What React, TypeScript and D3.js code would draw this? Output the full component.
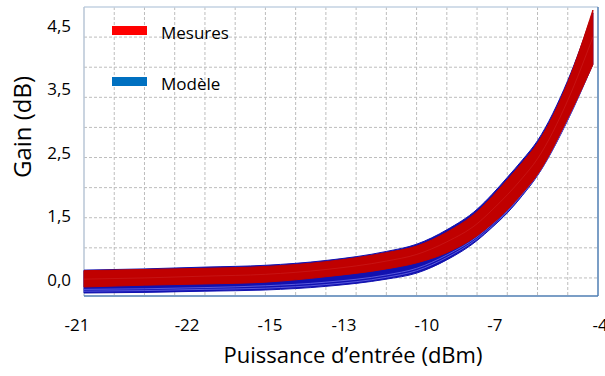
import * as d3 from "d3";

// input power (dBm) where the gain was read
const inputPower = [-21, -19, -17, -15, -13, -11, -10, -9, -8, -7.5, -7, -6.5, -6, -5, -4.17];

// envelope of the measured curves (dB)
const mesuresHaut = [0.12, 0.14, 0.16, 0.19, 0.27, 0.42, 0.53, 0.76, 1.1, 1.35, 1.63, 1.92, 2.24, 3.25, 4.45];
const mesuresBas = [-0.15, -0.12, -0.1, -0.07, 0.02, 0.15, 0.25, 0.42, 0.7, 0.9, 1.13, 1.41, 1.72, 2.65, 3.54];
const mesuresMilieu = [-0.02, 0.0, 0.03, 0.06, 0.14, 0.28, 0.39, 0.6, 0.9, 1.13, 1.38, 1.66, 1.98, 2.95, 4.0];

// envelope of the model curves (dB)
const modeleHaut = [0.13, 0.15, 0.18, 0.21, 0.29, 0.44, 0.56, 0.8, 1.14, 1.39, 1.67, 1.96, 2.28, 3.28, 4.4];
const modeleBas = [-0.25, -0.24, -0.22, -0.2, -0.14, -0.02, 0.08, 0.3, 0.62, 0.84, 1.08, 1.37, 1.7, 2.62, 3.55];
const modeleTraits1 = [-0.22, -0.21, -0.19, -0.17, -0.11, 0.01, 0.12, 0.34, 0.65, 0.86, 1.1, 1.39, 1.71, 2.63, 3.55];
const modeleTraits2 = [-0.19, -0.18, -0.16, -0.13, -0.07, 0.05, 0.16, 0.38, 0.68, 0.89, 1.12, 1.41, 1.72, 2.64, 3.56];

// tick labels as printed on the figure, and where they sit on each axis
const xTickLabels = ["-21", "-22", "-15", "-13", "-10", "-7", "-4"];
const xTickAt = [-21.23, -17.59, -14.85, -12.4, -9.66, -7.41, -3.93];
const yTickLabels = ["0,0", "1,5", "2,5", "3,5", "4,5"];

const W = 605;
const H = 376;
const m = { left: 84, right: 598, top: 7, bottom: 296 };
const font = "'Open Sans', 'Noto Sans', sans-serif";

export default function App() {
  const x = d3.scaleLinear().domain([-21, -4]).range([m.left, m.right]);
  const y = d3.scaleLinear().domain([-0.3, 4.5]).range([m.bottom, m.top]);
  const yLab = d3.scalePoint<string>().domain(yTickLabels).range([y(-0.02), y(4.2)]);

  const line = (vals: number[]) =>
    d3
      .line<number>()
      .x((_, i) => x(inputPower[i]))
      .y((d) => y(d))
      .curve(d3.curveMonotoneX)(vals) || "";

  const band = (lo: number[], hi: number[]) =>
    d3
      .area<number>()
      .x((i) => x(inputPower[i]))
      .y0((i) => y(lo[i]))
      .y1((i) => y(hi[i]))
      .curve(d3.curveMonotoneX)(d3.range(inputPower.length)) || "";

  const vGrid = d3.range(-20, -4, 1);
  const hGrid = d3.range(0, 4.5, 0.5);

  return (
    <svg width={W} height={H} style={{ position: "absolute", left: 0, top: 0, background: "#fff" }}>
      {/* grid */}
      <g stroke="#bdbdbd" strokeWidth={1} strokeDasharray="3,2">
        {vGrid.map((v) => (
          <line key={"v" + v} x1={x(v)} x2={x(v)} y1={m.top} y2={m.bottom} />
        ))}
        {hGrid.map((v) => (
          <line key={"h" + v} x1={m.left} x2={m.right} y1={y(v)} y2={y(v)} />
        ))}
      </g>

      {/* plot frame */}
      <line x1={m.left} x2={m.right} y1={m.top} y2={m.top} stroke="#c3d2e2" strokeWidth={1.5} />
      <line x1={m.left} x2={m.left} y1={m.top} y2={m.bottom} stroke="#b8c6d6" strokeWidth={1.5} />
      <line x1={m.right} x2={m.right} y1={m.top} y2={m.bottom} stroke="#4f7eb3" strokeWidth={1.5} />
      <line x1={m.left} x2={m.right} y1={m.bottom} y2={m.bottom} stroke="#4f7eb3" strokeWidth={1.5} />

      {/* Modèle */}
      <path d={band(modeleBas, modeleHaut)} fill="#1111b0" stroke="#1111b0" strokeWidth={1} />
      <path d={line(modeleTraits1)} fill="none" stroke="#6a6ae6" strokeWidth={1} opacity={0.8} />
      <path d={line(modeleTraits2)} fill="none" stroke="#6a6ae6" strokeWidth={1} opacity={0.8} />

      {/* Mesures */}
      <path d={band(mesuresBas, mesuresHaut)} fill="#c00000" stroke="#c00000" strokeWidth={1} />
      <path d={line(mesuresMilieu)} fill="none" stroke="#d23030" strokeWidth={0.8} opacity={0.5} />

      {/* legend */}
      <rect x={112} y={26} width={35} height={9} fill="#ff0000" />
      <text x={161} y={32} fontFamily={font} fontSize={17} dominantBaseline="central" fill="#000">
        Mesures
      </text>
      <rect x={112} y={77} width={35} height={9} fill="#0070c0" />
      <text x={161} y={83} fontFamily={font} fontSize={17} dominantBaseline="central" fill="#000">
        Modèle
      </text>

      {/* y tick labels */}
      {yTickLabels.map((t) => (
        <text key={t} x={71} y={yLab(t)} textAnchor="end" dominantBaseline="central"
          fontFamily={font} fontSize={17} fill="#000">
          {t}
        </text>
      ))}

      {/* x tick labels */}
      {xTickLabels.map((t, i) => (
        <text key={t} x={x(xTickAt[i])} y={331} textAnchor="middle"
          fontFamily={font} fontSize={17} fill="#000">
          {t}
        </text>
      ))}

      {/* axis titles */}
      <text x={353} y={363} textAnchor="middle" fontFamily={font} fontSize={22} fill="#000">
        Puissance d’entrée (dBm)
      </text>
      <text transform="translate(21,127) rotate(-90)" textAnchor="middle" dominantBaseline="central"
        fontFamily={font} fontSize={24} fill="#000">
        Gain (dB)
      </text>
    </svg>
  );
}
